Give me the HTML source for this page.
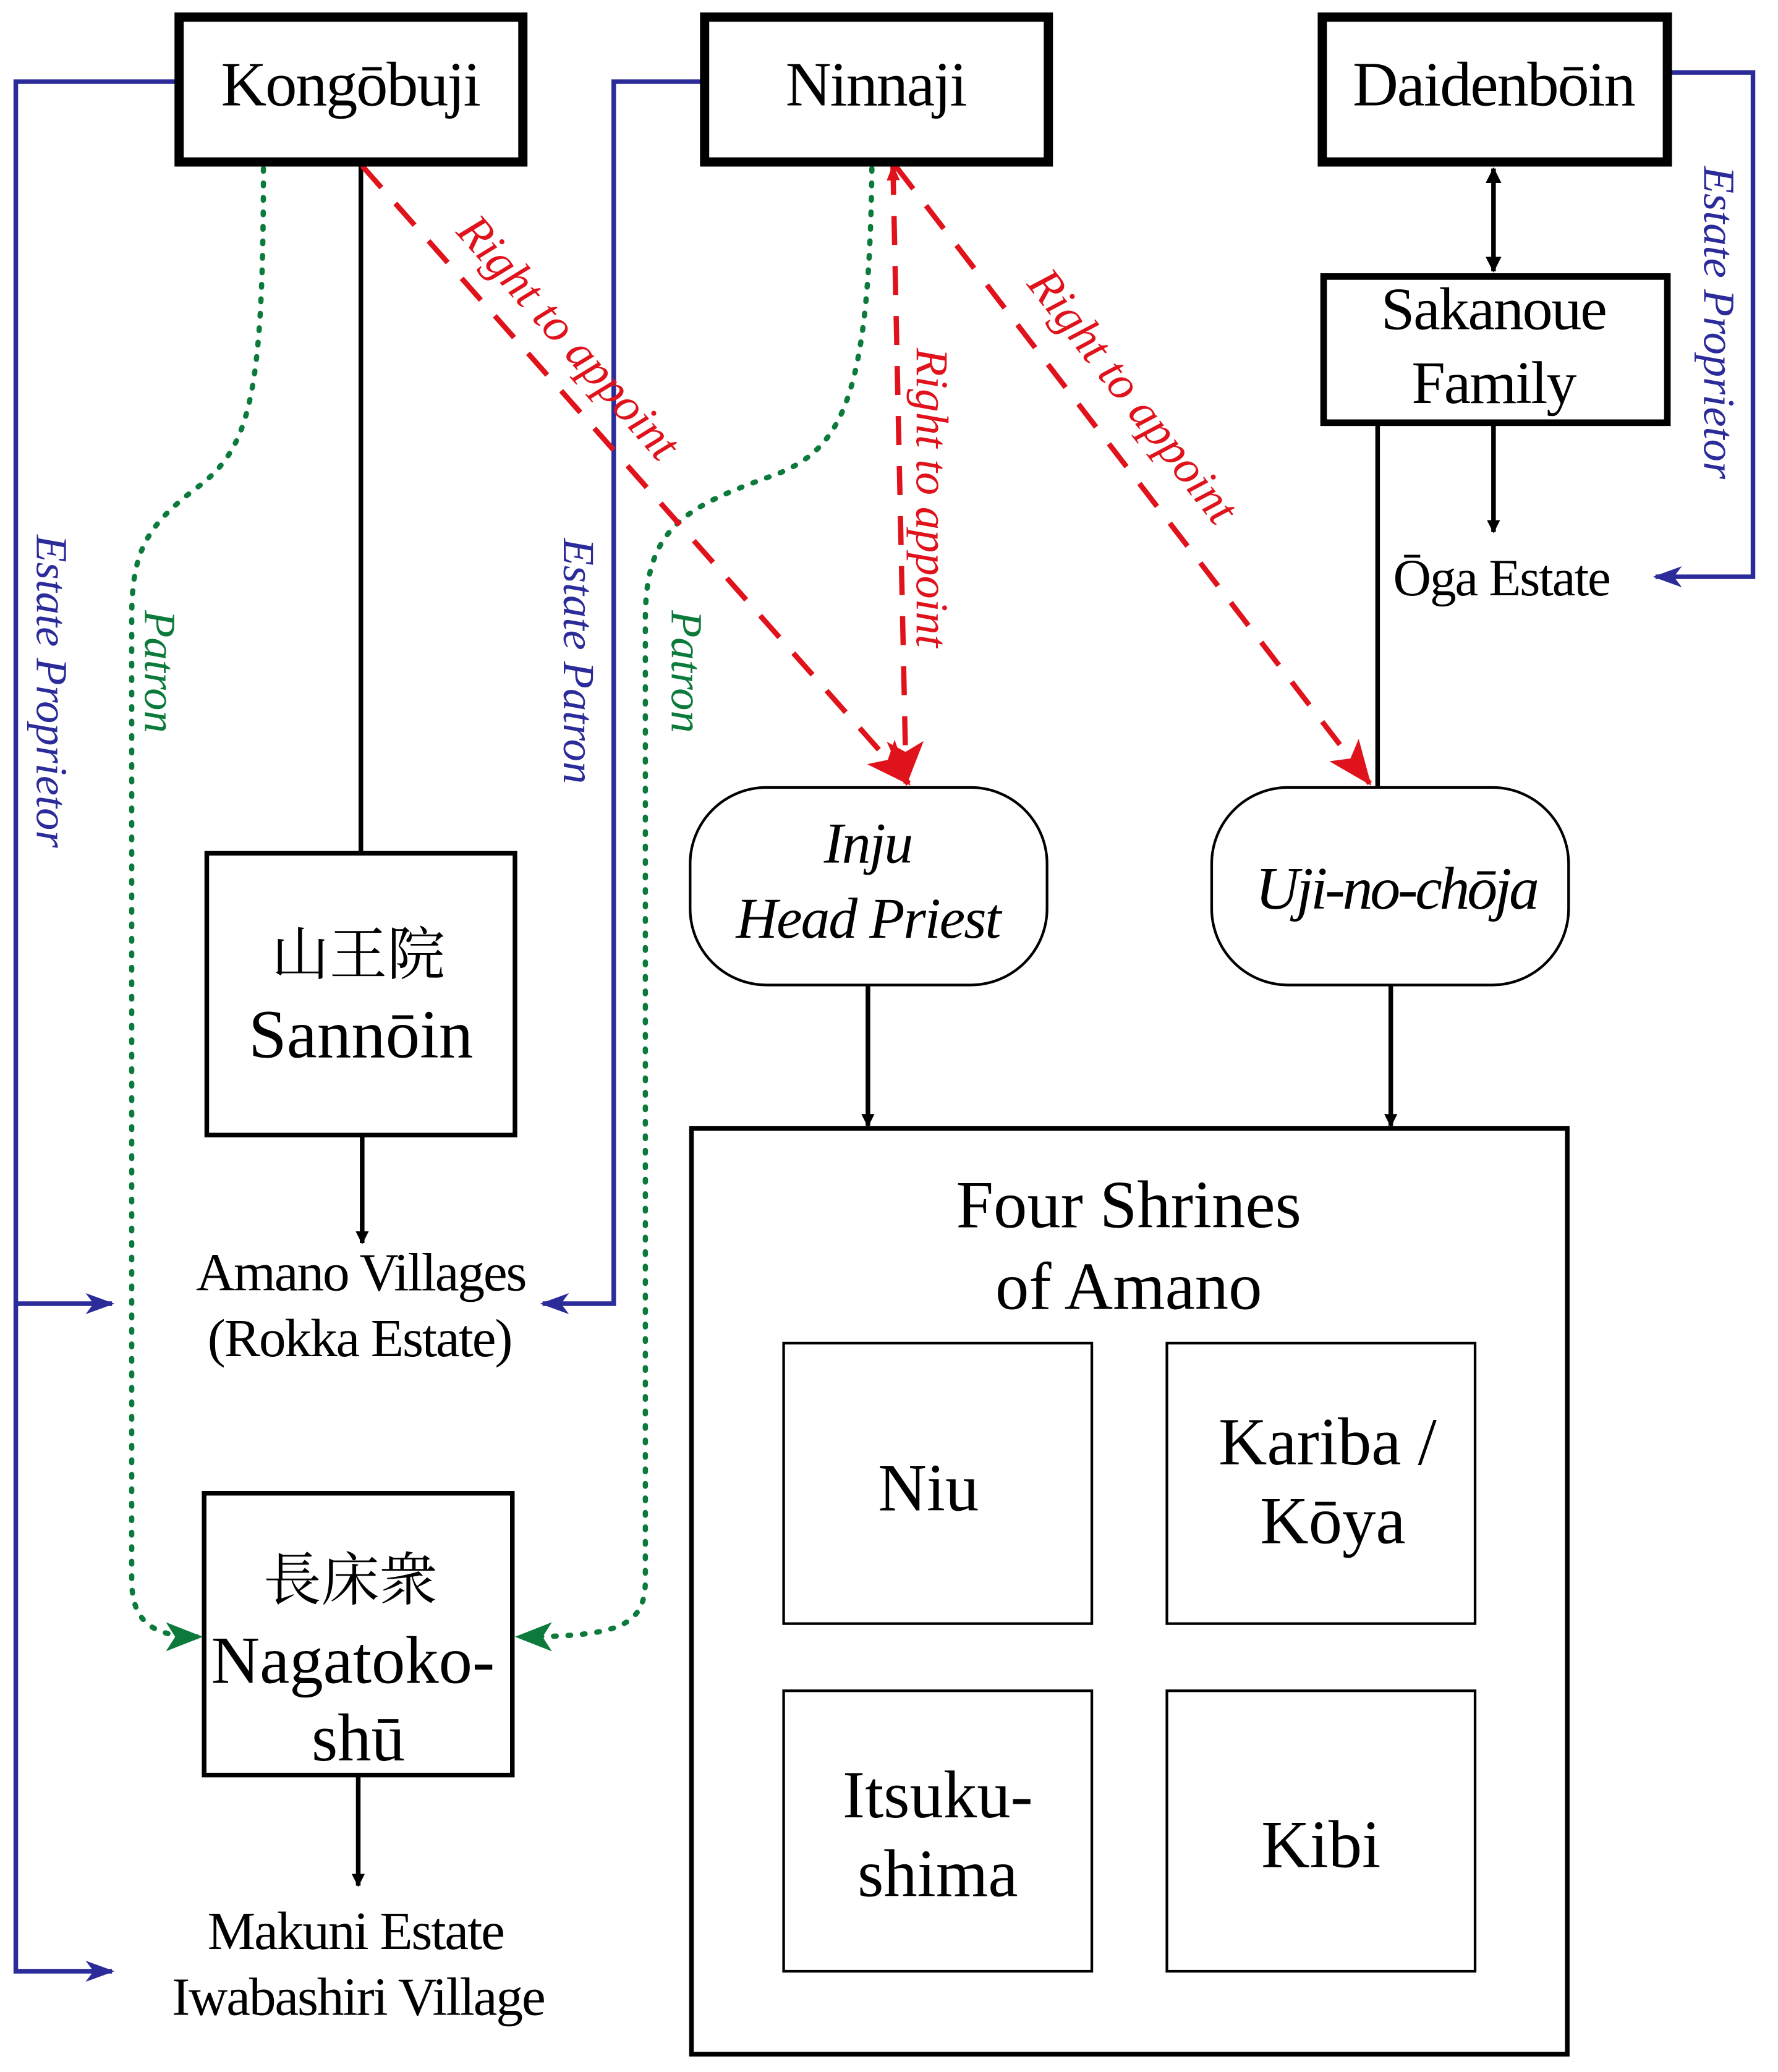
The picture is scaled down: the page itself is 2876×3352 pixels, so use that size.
<!DOCTYPE html>
<html><head><meta charset="utf-8">
<style>
html,body{margin:0;padding:0;background:#fff;}
svg{display:block;}
text{font-family:"Liberation Serif","Noto Serif CJK SC","Noto Sans CJK JP",serif;}
</style></head><body>
<svg width="2876" height="3352" viewBox="0 0 1350 1573.5" preserveAspectRatio="none" xmlns="http://www.w3.org/2000/svg">
<defs>
<marker id="ab" markerWidth="10" markerHeight="10" refX="9" refY="5" orient="auto" markerUnits="userSpaceOnUse"><path d="M0,0 L10,5 L0,10 z" fill="#000"/></marker>
<marker id="abs" markerWidth="12" markerHeight="12" refX="11" refY="6" orient="auto-start-reverse" markerUnits="userSpaceOnUse"><path d="M0,0 L12,6 L0,12 z" fill="#000"/></marker>
<marker id="bl" markerWidth="22" markerHeight="16" refX="20" refY="8" orient="auto" markerUnits="userSpaceOnUse"><path d="M0,0 L22,8 L0,16 L6,8 z" fill="#2b2b9a"/></marker>
<marker id="gr" markerWidth="28" markerHeight="22" refX="26" refY="11" orient="auto" markerUnits="userSpaceOnUse"><path d="M0,0 L28,11 L0,22 L7,11 z" fill="#0b7a3b"/></marker>
<marker id="rd" markerWidth="34" markerHeight="28" refX="32" refY="14" orient="auto" markerUnits="userSpaceOnUse"><path d="M0,0 L34,14 L0,28 L8,14 z" fill="#e0121b"/></marker>
<marker id="rds" markerWidth="12" markerHeight="10" refX="11" refY="5" orient="auto-start-reverse" markerUnits="userSpaceOnUse"><path d="M0,0 L12,5 L0,10 z" fill="#e0121b"/></marker>
</defs>

<g fill="none" stroke="#2b2b9a" stroke-width="3.5">
<path d="M133,62 H12 V1497 H85" marker-end="url(#bl)"/>
<path d="M12,990 H85" marker-end="url(#bl)"/>
<path d="M532,62 H466 V990 H412" marker-end="url(#bl)"/>
<path d="M1268,55 H1331 V438 H1257" marker-end="url(#bl)"/>
</g>

<g fill="none" stroke="#0b7a3b" stroke-width="4" stroke-dasharray="2,9" stroke-linecap="round">
<path d="M200,128 C200,300 190,340 150,370 C110,400 100,420 100,470 V1200 C100,1235 120,1243 152,1243" marker-end="url(#gr)"/>
<path d="M662,128 C660,300 640,340 590,360 C520,385 490,400 490,470 V1200 C490,1235 470,1243 393,1243" marker-end="url(#gr)"/>
</g>

<g fill="none" stroke="#000" stroke-width="3.5">
<path d="M274,125 V648"/>
<path d="M275,862 V944" marker-end="url(#ab)"/>
<path d="M272,1348 V1432" marker-end="url(#ab)"/>
<path d="M659,748 V855" marker-end="url(#ab)"/>
<path d="M1056,748 V855" marker-end="url(#ab)"/>
<path d="M1134,128 V206" marker-start="url(#abs)" marker-end="url(#abs)"/>
<path d="M1134,322 V404" marker-end="url(#ab)"/>
<path d="M1046,322 V598"/>
</g>

<g fill="none" stroke="#e0121b" stroke-width="4" stroke-dasharray="22,16">
<path d="M275,126 L690,595" marker-end="url(#rd)"/>
<path d="M678,126 L688,595" marker-start="url(#rds)" marker-end="url(#rd)"/>
<path d="M680,126 L1040,595" marker-end="url(#rd)"/>
</g>

<g fill="#fff" stroke="#000">
<rect x="136" y="13" width="261" height="110" stroke-width="7"/>
<rect x="535" y="13" width="261" height="110" stroke-width="7"/>
<rect x="1004" y="13" width="262" height="110" stroke-width="7"/>
<rect x="1005" y="210" width="261" height="111" stroke-width="5"/>
<rect x="157" y="648" width="234" height="214" stroke-width="3.5"/>
<rect x="155" y="1134" width="234" height="214" stroke-width="3.5"/>
<rect x="524" y="598" width="271" height="150" rx="58" stroke-width="2"/>
<rect x="920" y="598" width="271" height="150" rx="58" stroke-width="2"/>
<rect x="525" y="857" width="665" height="703" stroke-width="3.5"/>
<rect x="595" y="1020" width="234" height="213" stroke-width="2"/>
<rect x="886" y="1020" width="234" height="213" stroke-width="2"/>
<rect x="595" y="1284" width="234" height="213" stroke-width="2"/>
<rect x="886" y="1284" width="234" height="213" stroke-width="2"/>
</g>

<g fill="#000" text-anchor="middle">
<text x="266" y="80" font-size="48" letter-spacing="-1">Kongōbuji</text>
<text x="665" y="80" font-size="48" letter-spacing="-1">Ninnaji</text>
<text x="1134" y="80" font-size="48" letter-spacing="-1">Daidenbōin</text>
<text x="1134" y="250" font-size="46" letter-spacing="-1">Sakanoue</text>
<text x="1134" y="306" font-size="46" letter-spacing="-1">Family</text>
<text x="1140" y="452" font-size="40" letter-spacing="-1">Ōga Estate</text>
<text x="272" y="740" font-size="44">山王院</text>
<text x="274" y="803" font-size="52">Sannōin</text>
<text x="274" y="980" font-size="41" letter-spacing="-1">Amano Villages</text>
<text x="273" y="1030" font-size="41" letter-spacing="-1">(Rokka Estate)</text>
<text x="266" y="1215" font-size="44">長床衆</text>
<text x="268" y="1278" font-size="51">Nagatoko-</text>
<text x="272" y="1337" font-size="51">shū</text>
<text x="270" y="1480" font-size="41" letter-spacing="-1">Makuni Estate</text>
<text x="272" y="1530" font-size="41" letter-spacing="-1">Iwabashiri Village</text>
<text x="659" y="655" font-size="44" font-style="italic" letter-spacing="-1">Inju</text>
<text x="659" y="712" font-size="44" font-style="italic" letter-spacing="-1">Head Priest</text>
<text x="1060" y="690" font-size="46" font-style="italic" letter-spacing="-2">Uji-no-chōja</text>
<text x="857" y="932" font-size="51">Four Shrines</text>
<text x="857" y="994" font-size="51">of Amano</text>
<text x="705" y="1147" font-size="51">Niu</text>
<text x="1008" y="1112" font-size="51">Kariba /</text>
<text x="1012" y="1172" font-size="51">Kōya</text>
<text x="712" y="1380" font-size="51">Itsuku-</text>
<text x="712" y="1440" font-size="51">shima</text>
<text x="1003" y="1418" font-size="51">Kibi</text>
</g>

<g font-style="italic" font-size="34">
<text transform="translate(28,525) rotate(90)" fill="#2b2b9a" text-anchor="middle">Estate Proprietor</text>
<text transform="translate(110,510) rotate(90)" fill="#0b7a3b" text-anchor="middle">Patron</text>
<text transform="translate(428,502) rotate(90)" fill="#2b2b9a" text-anchor="middle">Estate Patron</text>
<text transform="translate(510,510) rotate(90)" fill="#0b7a3b" text-anchor="middle">Patron</text>
<text transform="translate(1294,245) rotate(90)" fill="#2b2b9a" text-anchor="middle">Estate Proprietor</text>
<text transform="translate(696,378) rotate(90)" fill="#e0121b" text-anchor="middle" font-size="35">Right to appoint</text>
<text transform="translate(423,264) rotate(48.5)" fill="#e0121b" text-anchor="middle" font-size="36">Right to appoint</text>
<text transform="translate(851,308) rotate(52)" fill="#e0121b" text-anchor="middle" font-size="36">Right to appoint</text>
</g>
</svg>
</body></html>
